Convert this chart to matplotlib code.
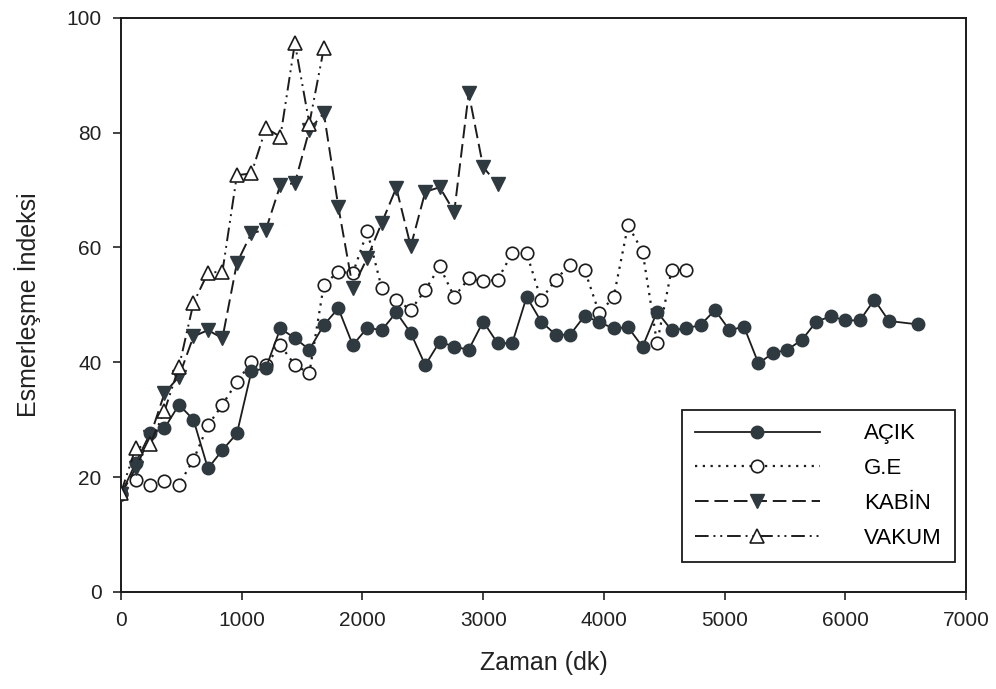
import matplotlib
matplotlib.use("Agg")
import matplotlib.pyplot as plt

plt.rcParams["font.family"] = ["Liberation Sans", "DejaVu Sans"]

# Time (minutes) and browning index values
acik_x = [0, 120, 240, 360, 480, 600, 720, 840, 960, 1080, 1200, 1320, 1440,
          1560, 1680, 1800, 1920, 2040, 2160, 2280, 2400, 2520, 2640, 2760,
          2880, 3000, 3120, 3240, 3360, 3480, 3600, 3720, 3840, 3960, 4080,
          4200, 4320, 4440, 4560, 4680, 4800, 4920, 5040, 5160, 5280, 5400,
          5520, 5640, 5760, 5880, 6000, 6120, 6240, 6360, 6600]
acik_y = [17, 22.4, 27.6, 28.5, 32.6, 30, 21.5, 24.7, 27.6, 38.4, 39, 45.9,
          44.2, 42.2, 46.5, 49.4, 43, 46, 45.6, 48.7, 45.1, 39.5, 43.6, 42.7,
          42.2, 47.1, 43.3, 43.3, 51.4, 47.1, 44.8, 44.8, 48.1, 47, 45.9, 46.1,
          42.7, 48.8, 45.6, 45.9, 46.5, 49.1, 45.6, 46.2, 39.8, 41.6, 42.2,
          43.9, 47.1, 48, 47.3, 47.3, 50.9, 47.2, 46.6]

ge_x = [0, 120, 240, 360, 480, 600, 720, 840, 960, 1080, 1200, 1320, 1440,
        1560, 1680, 1800, 1920, 2040, 2160, 2280, 2400, 2520, 2640, 2760, 2880,
        3000, 3120, 3240, 3360, 3480, 3600, 3720, 3840, 3960, 4080, 4200, 4320,
        4440, 4560, 4680]
ge_y = [17, 19.5, 18.6, 19.3, 18.7, 23, 29, 32.6, 36.6, 40, 39.5, 43, 39.5,
        38.1, 53.5, 55.8, 55.5, 62.8, 52.9, 50.9, 49.1, 52.6, 56.7, 51.4, 54.6,
        54.1, 54.4, 59, 59, 50.9, 54.4, 57, 56.1, 48.6, 51.3, 63.9, 59.3, 43.3,
        56.1, 56.1]

kabin_x = [0, 120, 240, 360, 480, 600, 720, 840, 960, 1080, 1200, 1320, 1440,
           1560, 1680, 1800, 1920, 2040, 2160, 2280, 2400, 2520, 2640, 2760,
           2880, 3000, 3120]
kabin_y = [17, 21.5, 27, 34.6, 37.5, 44.5, 45.6, 44.2, 57.3, 62.5, 63.1, 70.9,
           71.2, 80.5, 83.4, 67.1, 53, 58.2, 64.3, 70.4, 60.2, 69.7, 70.5, 66.2,
           86.9, 74, 71]

vakum_x = [0, 120, 240, 360, 480, 600, 720, 840, 960, 1080, 1200, 1320, 1440,
           1560, 1680]
vakum_y = [17.3, 25, 25.7, 31.5, 39.2, 50.3, 55.6, 55.8, 72.6, 72.9, 80.8,
           79.3, 95.6, 81.6, 94.7]

line_col = "#1c1c1c"
fill_col = "#2e3940"

fig = plt.figure(figsize=(9.96, 6.89), dpi=100)
ax = fig.add_axes([0.1215, 0.141, 0.8485, 0.833])

ax.plot(acik_x, acik_y, color=line_col, linestyle="-", linewidth=1.3,
        marker="o", markersize=9, markerfacecolor=fill_col,
        markeredgecolor=fill_col, label="AÇIK", zorder=4)
ax.plot(ge_x, ge_y, color=line_col, linestyle=(0, (1, 2.5)), linewidth=1.6,
        marker="o", markersize=9, markerfacecolor="white",
        markeredgecolor=line_col, markeredgewidth=1.2, label="G.E", zorder=3)
ax.plot(kabin_x, kabin_y, color=line_col, linestyle=(0, (7, 3)), linewidth=1.4,
        marker="v", markersize=10, markerfacecolor=fill_col,
        markeredgecolor=fill_col, label="KABİN", zorder=5)
ax.plot(vakum_x, vakum_y, color=line_col,
        linestyle=(0, (7, 2.5, 1, 2.5, 1, 2.5)), linewidth=1.4,
        marker="^", markersize=10, markerfacecolor="white",
        markeredgecolor=line_col, markeredgewidth=1.2, label="VAKUM", zorder=6)

ax.set_xlim(0, 7000)
ax.set_ylim(0, 100)
ax.set_xticks(range(0, 7001, 1000))
ax.set_yticks(range(0, 101, 20))
ax.tick_params(axis="both", direction="out", length=6, width=1.2,
               labelsize=15, colors="#222222", pad=8)
for s in ax.spines.values():
    s.set_linewidth(1.4)
    s.set_color("#1a1a1a")

ax.set_xlabel("Zaman (dk)", fontsize=18, labelpad=15, color="#222222")
ax.set_ylabel("Esmerleşme İndeksi", fontsize=18, labelpad=18, color="#222222")

leg = ax.legend(loc="lower right", bbox_to_anchor=(0.987, 0.052),
                fontsize=16, handlelength=5.6, handletextpad=2.0,
                labelspacing=0.62, borderpad=0.6, borderaxespad=0,
                fancybox=False, framealpha=1, edgecolor="#1a1a1a")
leg.get_frame().set_linewidth(1.3)

fig.savefig("out.png", dpi=100)
